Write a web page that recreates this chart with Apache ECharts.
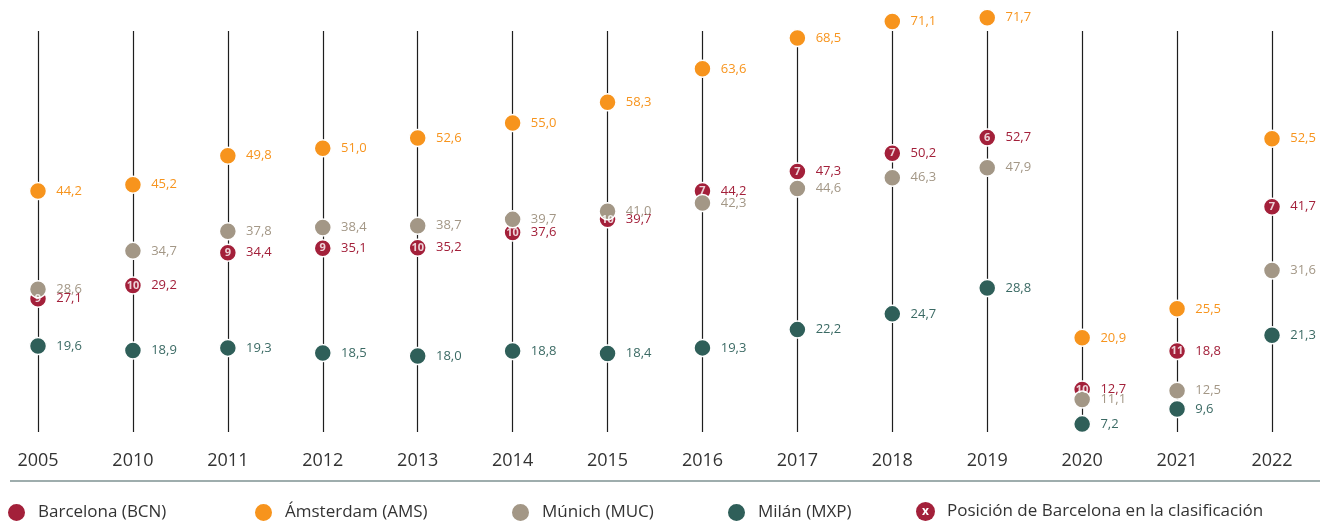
<!DOCTYPE html>
<html>
<head>
<meta charset="utf-8">
<script src="https://cdn.jsdelivr.net/npm/echarts@6/dist/echarts.min.js"></script>
<style>
html,body{margin:0;padding:0;background:#fff;}
#c{width:1326px;height:523px;}
</style>
</head>
<body>
<div id="c"></div>
<script>
const years = ['2005','2010','2011','2012','2013','2014','2015','2016','2017','2018','2019','2020','2021','2022'];
const bcn = [27.1,29.2,34.4,35.1,35.2,37.6,39.7,44.2,47.3,50.2,52.7,12.7,18.8,41.7];
const ams = [44.2,45.2,49.8,51.0,52.6,55.0,58.3,63.6,68.5,71.1,71.7,20.9,25.5,52.5];
const muc = [28.6,34.7,37.8,38.4,38.7,39.7,41.0,42.3,44.6,46.3,47.9,11.1,12.5,31.6];
const mxp = [19.6,18.9,19.3,18.5,18.0,18.8,18.4,19.3,22.2,24.7,28.8,7.2,9.6,21.3];
const bcnRank = [9,10,9,9,10,10,10,7,7,7,6,10,11,7];

const names = ['Barcelona (BCN)','Ámsterdam (AMS)','Múnich (MUC)','Milán (MXP)'];
const rankName = 'Posición de Barcelona en la clasificación';
const colors = ['#a3203a','#f7941d','#a39786','#2f5f59'];
const labelColors = ['#a3203a','#f7941d','#a39786','#3b6a64'];
const fmt = v => v.toFixed(1).replace('.', ',');

const chart = echarts.init(document.getElementById('c'));
const FONT = '"Open Sans", "Noto Sans", sans-serif';

function dotSeries(name, data, idx) {
  return {
    name: name,
    type: 'scatter',
    data: data,
    symbol: 'circle',
    symbolSize: 17,
    clip: false,
    itemStyle: { color: colors[idx], borderColor: '#fff', borderWidth: 1.5, opacity: 1 },
    label: {
      show: true, position: 'right', distance: 9,
      formatter: p => fmt(p.value),
      color: labelColors[idx], fontSize: 13, fontFamily: FONT
    },
    emphasis: { disabled: true }
  };
}

const legendLefts = [1, 248, 505, 721, 906];
const legends = names.map((n, i) => ({
  data: [n], left: legendLefts[i], top: 497, icon: 'circle',
  itemWidth: 19, itemHeight: 19, itemGap: 0,
  textStyle: { fontSize: 17, color: '#333', fontFamily: FONT, padding: [0,0,0,7] },
  selectedMode: false
}));
legends.push({
  data: [rankName], left: legendLefts[4], top: 497, icon: 'none',
  itemWidth: 0, itemHeight: 19, selectedMode: false,
  formatter: '{x|x}{t|' + rankName + '}',
  textStyle: {
    fontFamily: FONT,
    rich: {
      x: { backgroundColor: '#a3203a', color: '#fff', width: 19, height: 19, borderRadius: 10,
           align: 'center', fontSize: 12, fontWeight: 'bold', fontFamily: FONT, lineHeight: 19 },
      t: { fontSize: 17, color: '#333', fontFamily: FONT, padding: [0,0,0,12] }
    }
  }
});

const option = {
  animation: false,
  grid: { left: 38, right: 54, top: 31, bottom: 91 },
  legend: legends,
  xAxis: {
    type: 'category', data: years, boundaryGap: false,
    axisLine: { show: false }, axisTick: { show: false },
    axisLabel: { fontSize: 18, color: '#333', fontFamily: FONT, margin: 20 },
    splitLine: { show: true, lineStyle: { color: '#1e1e1e', width: 1.2 } }
  },
  yAxis: {
    type: 'value', min: 5.95, max: 69.6,
    show: false, splitLine: { show: false }
  },
  graphic: [{
    type: 'line', shape: { x1: 10, y1: 481, x2: 1320, y2: 481 },
    style: { stroke: '#3e5c5c', lineWidth: 1.2 }, silent: true
  }],
  series: [
    dotSeries(names[0], bcn, 0),
    {
      name: rankName, type: 'scatter', data: bcn.map((v, i) => ({ value: v, rank: bcnRank[i] })),
      symbol: 'circle', symbolSize: 17, clip: false,
      itemStyle: { color: 'rgba(0,0,0,0)' },
      label: { show: true, position: 'inside', formatter: p => p.data.rank,
               color: '#fff', fontSize: 11, fontWeight: 'bold', fontFamily: FONT },
      emphasis: { disabled: true }
    },
    dotSeries(names[1], ams, 1),
    dotSeries(names[2], muc, 2),
    dotSeries(names[3], mxp, 3)
  ]
};
chart.setOption(option);
</script>
</body>
</html>
